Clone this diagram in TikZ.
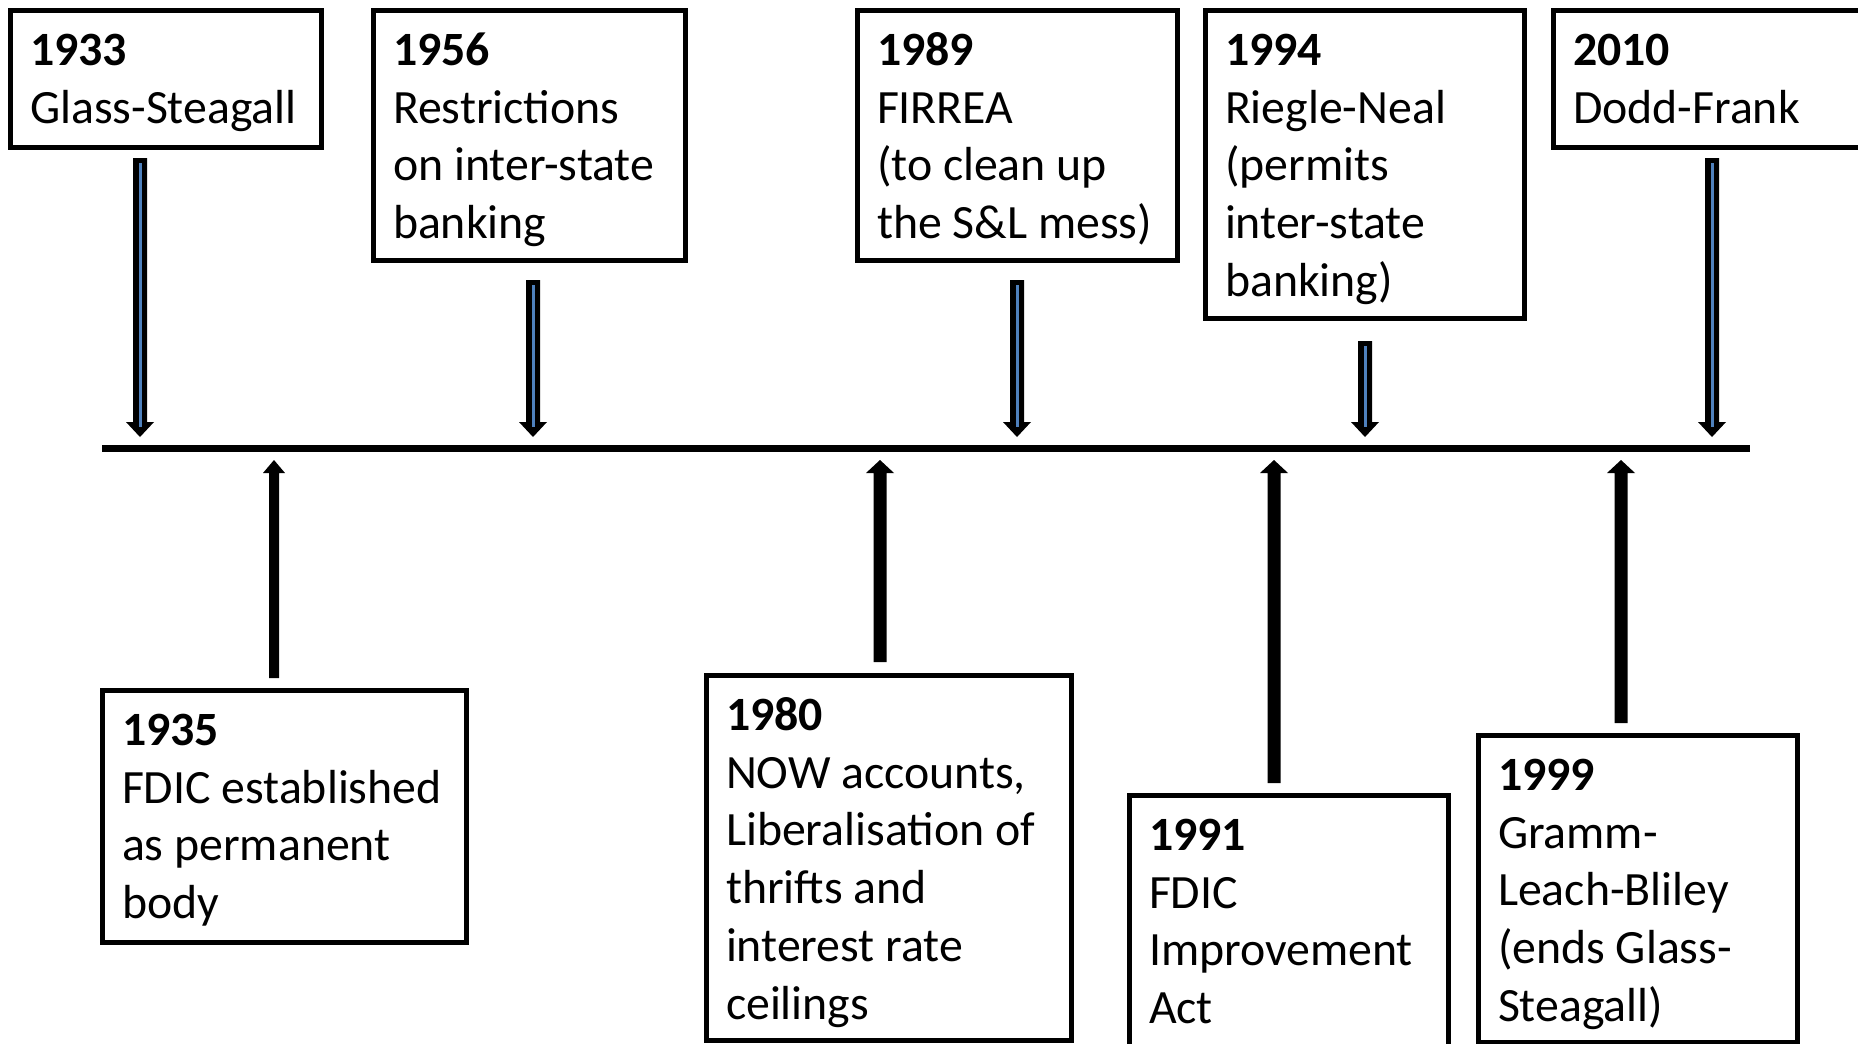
\documentclass[tikz,border=0pt]{standalone}
\usepackage{fontspec}
\setmainfont{Carlito}
\usetikzlibrary{calc}
\definecolor{arrowblue}{RGB}{79,129,189}
\tikzset{
  box/.style={draw=black, line width=5pt, fill=white, inner sep=0pt, outer sep=0pt, anchor=north west, line join=miter},
  txt/.style={inner sep=0pt, outer sep=0pt, anchor=north west, align=left, font=\fontsize{47.8}{57.7}\selectfont},
}
\newcommand\mydarr[2]{%
  \fill ($(#1)+(-7,0)$) -- ($(#2)+(-7,-15)$) -- ($(#2)+(-14,-15)$) -- (#2) -- ($(#2)+(14,-15)$) -- ($(#2)+(7,-15)$) -- ($(#1)+(7,0)$) -- cycle;
  \draw[line width=3pt, arrowblue] ($(#1)+(0,5)$) -- ($(#2)+(0,-10)$);}
\newcommand\myuarr[4]{%
  \fill ($(#1)+(-#3,0)$) -- ($(#2)+(-#3,13)$) -- ($(#2)+(-#4,13)$) -- (#2) -- ($(#2)+(#4,13)$) -- ($(#2)+(#3,13)$) -- ($(#1)+(#3,0)$) -- cycle;}
\newcommand\fl{\rule{0pt}{40pt}}
\begin{document}
\begin{tikzpicture}[x=1pt,y=-1pt]
\useasboundingbox (0,0) rectangle (1858,1044);
\clip (0,0) rectangle (1858,1044);
\fill[white] (0,0) rectangle (1858,1044);

% top boxes
\node[box, minimum width=311, minimum height=137] (b1933) at (10,10) {};
\node[txt] (t1933) at (30,25.5) {\fl\textbf{1933}\\Glass-Steagall};
\node[box, minimum width=312, minimum height=250] (b1956) at (373,10) {};
\node[txt] (t1956) at (393,25.5) {\fl\textbf{1956}\\Restrictions\\on inter-state\\banking};
\node[box, minimum width=320, minimum height=250] (b1989) at (857,10) {};
\node[txt] (t1989) at (877,25.5) {\fl\textbf{1989}\\FIRREA\\(to clean up\\the S\&L mess)};
\node[box, minimum width=319, minimum height=308] (b1994) at (1205,10) {};
\node[txt] (t1994) at (1225,25.5) {\fl\textbf{1994}\\Riegle-Neal\\(permits\\inter-state\\banking)};
\node[box, minimum width=330, minimum height=137] (b2010) at (1553,10) {};
\node[txt] (t2010) at (1573,25.5) {\fl\textbf{2010}\\Dodd-Frank};

% bottom boxes
\node[box, minimum width=364, minimum height=252] (b1935) at (102,690) {};
\node[txt] (t1935) at (122,705.5) {\fl\textbf{1935}\\FDIC established\\as permanent\\body};
\node[box, minimum width=365, minimum height=365] (b1980) at (706,675) {};
\node[txt] (t1980) at (726,690.5) {\fl\textbf{1980}\\NOW accounts,\\Liberalisation of\\thrifts and\\interest rate\\ceilings};
\node[box, minimum width=319, minimum height=260] (b1991) at (1129,795) {};
\node[txt] (t1991) at (1149,810.5) {\fl\textbf{1991}\\FDIC\\Improvement\\Act};
\node[box, minimum width=319, minimum height=307] (b1999) at (1478,735) {};
\node[txt] (t1999) at (1498,750.5) {\fl\textbf{1999}\\Gramm-\\Leach-Bliley\\(ends Glass-\\Steagall)};

% timeline
\coordinate (tlL) at (102,448.5);
\coordinate (tlR) at (1750,448.5);
\draw[line width=6.5pt] (tlL) -- (tlR);

% down arrows
\coordinate (d1933a) at (140,158);  \coordinate (d1933b) at (140,437);
\coordinate (d1956a) at (533,280);  \coordinate (d1956b) at (533,437);
\coordinate (d1989a) at (1017,280); \coordinate (d1989b) at (1017,437);
\coordinate (d1994a) at (1365,341); \coordinate (d1994b) at (1365,437);
\coordinate (d2010a) at (1712,158); \coordinate (d2010b) at (1712,437);
\mydarr{d1933a}{d1933b}
\mydarr{d1956a}{d1956b}
\mydarr{d1989a}{d1989b}
\mydarr{d1994a}{d1994b}
\mydarr{d2010a}{d2010b}

% up arrows
\coordinate (u1935a) at (274,678);  \coordinate (u1935b) at (274,460);
\coordinate (u1980a) at (880,662);  \coordinate (u1980b) at (880,460);
\coordinate (u1991a) at (1274,783); \coordinate (u1991b) at (1274,460);
\coordinate (u1999a) at (1621,723); \coordinate (u1999b) at (1621,460);
\myuarr{u1935a}{u1935b}{5}{11}
\myuarr{u1980a}{u1980b}{6.5}{14}
\myuarr{u1991a}{u1991b}{6.5}{14}
\myuarr{u1999a}{u1999b}{6.5}{14}
\end{tikzpicture}
\end{document}
